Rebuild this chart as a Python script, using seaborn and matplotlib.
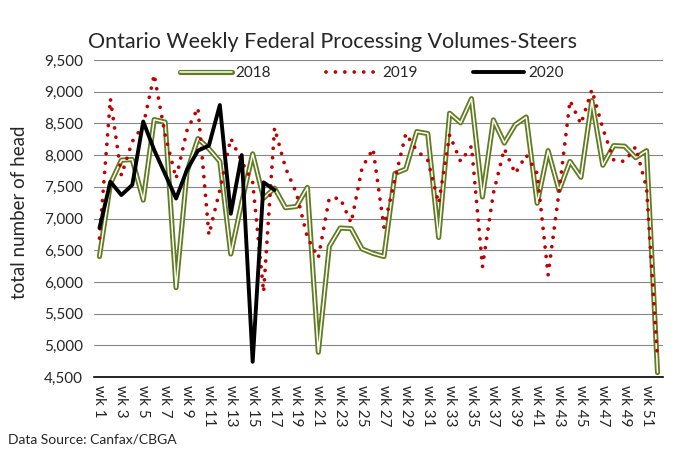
import matplotlib
matplotlib.use("Agg")
import matplotlib.pyplot as plt
import matplotlib.patheffects as pe
from matplotlib.ticker import FuncFormatter
import pandas as pd
import seaborn as sns

weeks = list(range(1, 53))
vol_2018 = [6400, 7550, 7920, 7930, 7290, 8560, 8520, 5910, 7740, 8260,
            8100, 7900, 6440, 7250, 8020, 7320, 7480, 7170, 7190, 7490,
            4890, 6560, 6850, 6840, 6520, 6450, 6400, 7710, 7780, 8370,
            8340, 6700, 8660, 8510, 8890, 7340, 8555, 8190, 8480, 8600,
            7240, 8070, 7440, 7900, 7650, 8860, 7840, 8150, 8140, 7960,
            8070, 4570]
vol_2019 = [6690, 8890, 7680, 8215, 8470, 9270, 8320, 7630, 8390, 8745,
            6740, 7450, 8265, 7900, 7570, 5840, 8430, 7800, 7400, 6700,
            6380, 7320, 7320, 6930, 7800, 8100, 6860, 7620, 8340, 8070,
            7920, 7240, 8320, 7900, 8140, 6240, 7400, 8100, 7710, 8000,
            7710, 6110, 7420, 8860, 8490, 9030, 8420, 7920, 7900, 8130,
            7480, 4780]
vol_2020 = [6850, 7580, 7370, 7530, 8530, 8080, 7700, 7315, 7770, 8070,
            8150, 8790, 7075, 8000, 4740, 7570, 7450]
week_labels = ["wk %d" % w for w in weeks[::2]]
yticks = list(range(4500, 10000, 500))

green = "#617B1F"
red = "#C00000"

sns.set_style("white")
plt.rcParams["font.family"] = ["Lato", "DejaVu Sans"]

fig = plt.figure(figsize=(6.86, 4.55), dpi=100)
ax = fig.add_axes([94 / 686, 1 - 377 / 455, 569 / 686, 317 / 455])

df18 = pd.DataFrame({"week": weeks, "head": vol_2018})
df19 = pd.DataFrame({"week": weeks, "head": vol_2019})
df20 = pd.DataFrame({"week": weeks[:len(vol_2020)], "head": vol_2020})

sns.lineplot(data=df18, x="week", y="head", ax=ax, color="white", lw=1.1,
             errorbar=None, label="2018",
             path_effects=[pe.Stroke(linewidth=3.7, foreground=green), pe.Normal()])
sns.lineplot(data=df19, x="week", y="head", ax=ax, color=red, lw=2.7,
             linestyle=(0, (0.01, 2.5)), dash_capstyle="round",
             errorbar=None, label="2019")
sns.lineplot(data=df20, x="week", y="head", ax=ax, color="black", lw=2.8,
             errorbar=None, label="2020")

ax.set_xlim(0.5, 52.5)
ax.set_ylim(4500, 9500)
ax.set_yticks(yticks)
ax.yaxis.set_major_formatter(FuncFormatter(lambda v, p: "{:,.0f}".format(v)))
ax.set_xticks(weeks[::2])
ax.set_xticklabels(week_labels, rotation=-90, fontsize=11)
ax.tick_params(axis="y", labelsize=11, length=0, pad=8)
ax.tick_params(axis="x", length=0, pad=6)
ax.grid(axis="y", color="#868686", lw=0.8)
ax.set_axisbelow(True)
for s in ["top", "right", "left"]:
    ax.spines[s].set_visible(False)
ax.spines["bottom"].set_color("black")
ax.spines["bottom"].set_linewidth(1.2)
ax.set_xlabel("")
ax.set_ylabel("")

ax.legend(ncol=3, frameon=False, loc="center left", bbox_to_anchor=(86 / 569, 1 - 13 / 317),
          fontsize=11, handlelength=3.4, handletextpad=0.25, columnspacing=3.6,
          borderaxespad=0, borderpad=0)

fig.text(332 / 686, 1 - 42 / 455, "Ontario Weekly Federal Processing Volumes-Steers",
         ha="center", va="center", fontsize=15.5)
fig.text(20 / 686, 1 - 212 / 455, "total number of head", rotation=90,
         ha="center", va="center", fontsize=13.5)
fig.text(8 / 686, 1 - 440 / 455, "Data Source: Canfax/CBGA", ha="left", va="center",
         fontsize=10)

fig.savefig("out.png", dpi=100)
